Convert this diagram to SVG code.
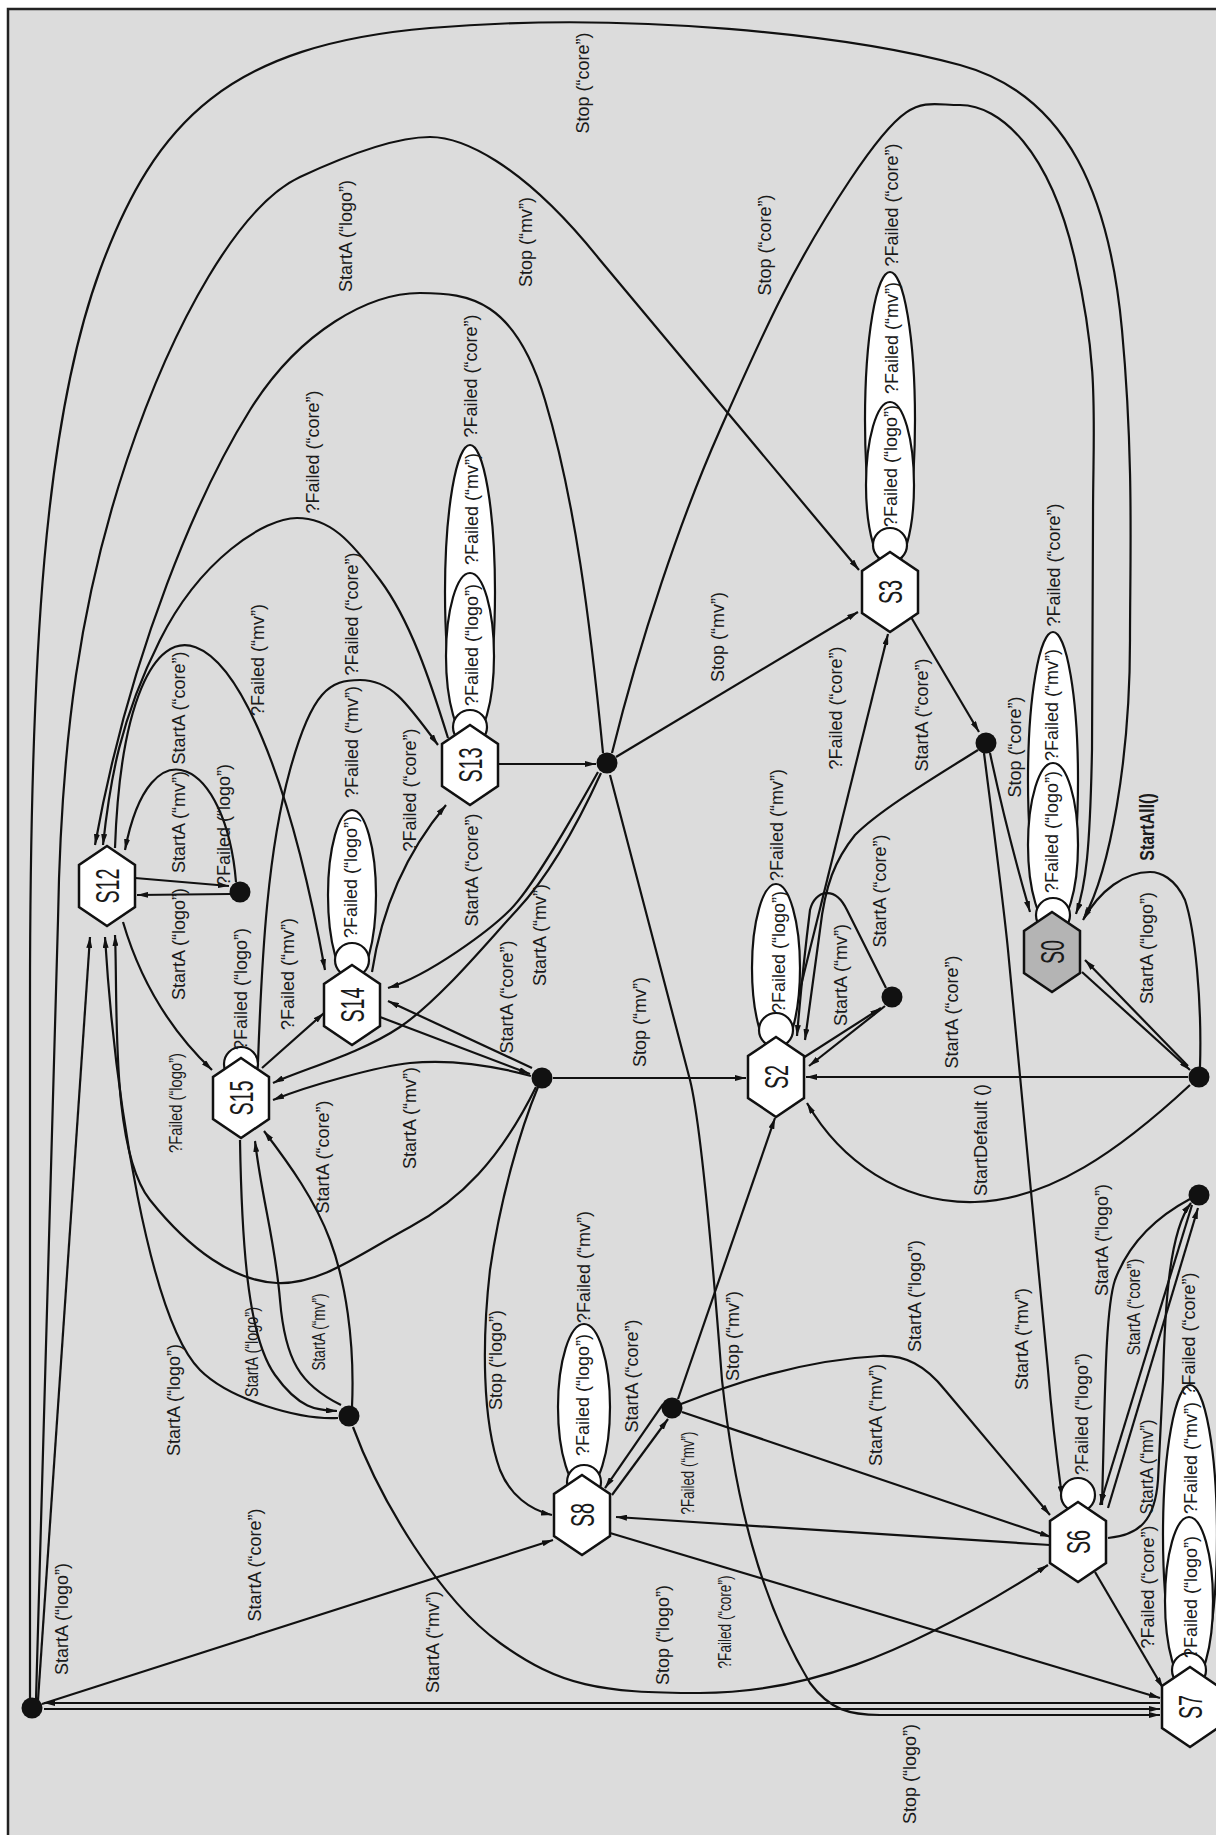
<svg xmlns="http://www.w3.org/2000/svg" xmlns:xlink="http://www.w3.org/1999/xlink" width="1216" height="1835" viewBox="0 0 1216 1835">
<style>
.e path{fill:none;stroke:#111;stroke-width:2.2;marker-end:url(#ar)}
.lp{fill:#fff;stroke:#111;stroke-width:2.2}
.nd{fill:#fff;stroke:#111;stroke-width:2.5}
.gr{fill:#b4b4b4;stroke:#111;stroke-width:2.5}
.j{fill:#111}
.t{font-family:"Liberation Sans",Arial,sans-serif;font-size:18px;fill:#1a1a1a;text-anchor:middle;dominant-baseline:central}
.n{font-size:33px}
.b{font-weight:bold;font-size:20px}
</style>
<defs>
<marker id="ar" viewBox="0 0 11 6" refX="11" refY="3" markerWidth="11" markerHeight="6" markerUnits="userSpaceOnUse" orient="auto"><path d="M0,0 L11,3 L0,6 z" fill="#111"/></marker>
<polygon id="hex" points="0,-40 28,-21 28,21 0,40 -28,21 -28,-21"/>
</defs>
<rect x="0" y="0" width="1216" height="1835" fill="#fff"/>
<rect x="8" y="9" width="1240" height="1860" fill="#dcdcdc" stroke="#222" stroke-width="2.5"/>

<g id="connectors" class="e">
<path d="M30,1700 L30,1000 C30,650 45,420 100,270 S230,45 430,28 S850,35 960,65 S1110,200 1122,330 S1130,560 1130,640 C1130,760 1110,870 1084,918"/>
<path d="M612,753 C640,640 680,520 720,430 S790,270 850,180 S920,105 960,105 S1050,150 1075,260 S1093,420 1093,520 L1092,750 C1090,850 1086,885 1076,914"/>
<path d="M36,1700 C45,1400 55,1100 58,920 S80,600 127,460 S240,205 300,177 S400,137 430,137 S520,160 600,260 L859,570"/>
<path d="M603,753 C590,620 575,500 545,400 S470,293 420,293 S300,330 250,410 S130,650 95,845"/>
<path d="M448,738 C430,680 410,620 380,580 S330,518 297,518 S200,560 160,640 S110,780 103,845"/>
<path d="M115,848 C125,560 250,560 325,970"/>
<path d="M236,882 C226,760 150,720 125,850"/>
<path d="M135,878 L229,886"/>
<path d="M230,894 L137,895"/>
<path d="M258,1062 C262,950 268,850 290,770 S330,680 360,680 S405,700 438,745"/>
<path d="M372,972 C380,920 400,860 446,805"/>
<path d="M498,764 L596,764"/>
<path d="M616,757 L858,612"/>
<path d="M598,772 C560,840 530,890 510,910 S430,975 388,988"/>
<path d="M601,773 C575,830 545,880 517,910 S440,1000 400,1027 S300,1070 273,1083"/>
<path d="M610,775 L690,1080 C700,1120 712,1250 722,1380 C735,1500 760,1600 810,1683 C830,1710 850,1715 880,1715 L1160,1715"/>
<path d="M380,1017 L530,1074"/>
<path d="M532,1068 L388,1001"/>
<path d="M553,1078 L746,1078"/>
<path d="M531,1076 C480,1062 440,1060 410,1063 S310,1085 273,1100"/>
<path d="M536,1087 C500,1160 460,1200 410,1227 S320,1285 277,1283 S190,1250 150,1200 S118,1000 115,935"/>
<path d="M123,922 C140,980 170,1030 212,1070"/>
<path d="M38,1700 L90,937"/>
<path d="M338,1418 C300,1420 230,1400 200,1370 C150,1320 115,1100 105,937"/>
<path d="M240,1140 C242,1260 250,1340 275,1375 S318,1410 337,1411"/>
<path d="M341,1405 C300,1385 285,1360 280,1300 S262,1200 255,1141"/>
<path d="M352,1407 C355,1340 345,1280 330,1240 S290,1165 264,1131"/>
<path d="M353,1427 C380,1500 440,1600 500,1643 S600,1693 700,1693 S900,1660 1048,1565"/>
<path d="M1160,1703 L44,1703"/>
<path d="M44,1709 L1160,1709"/>
<path d="M42,1704 L553,1540"/>
<path d="M538,1087 C520,1130 500,1200 490,1270 C482,1340 482,1420 500,1470 C510,1495 530,1510 552,1515"/>
<path d="M1050,1545 L616,1517"/>
<path d="M610,1533 L1160,1698"/>
<path d="M663,1404 L605,1488"/>
<path d="M612,1495 L668,1419"/>
<path d="M678,1399 L775,1118"/>
<path d="M682,1412 L1051,1537"/>
<path d="M681,1404 C730,1385 800,1360 880,1356 C905,1355 925,1365 945,1390 L1050,1515"/>
<path d="M984,753 C995,840 1003,900 1008,950 L1048,1370 C1052,1420 1057,1460 1062,1497"/>
<path d="M1190,1199 C1160,1215 1130,1240 1115,1280 C1105,1310 1105,1400 1102,1505"/>
<path d="M1108,1538 C1140,1535 1155,1520 1158,1480 L1163,1380 C1165,1300 1170,1230 1191,1203"/>
<path d="M1108,1508 L1198,1208"/>
<path d="M1192,1205 L1100,1505"/>
<path d="M1095,1572 L1163,1688"/>
<path d="M803,1058 L881,1008"/>
<path d="M885,1006 L809,1066"/>
<path d="M886,988 L847,910 C835,885 815,890 810,910 C805,950 800,1000 797,1036"/>
<path d="M788,1038 L888,634"/>
<path d="M978,750 C930,780 880,810 855,835 C835,860 825,885 820,930 L805,1040"/>
<path d="M908,612 L979,732"/>
<path d="M990,753 C1000,800 1015,860 1030,912"/>
<path d="M1188,1077 L806,1077"/>
<path d="M1190,1085 C1120,1150 1050,1200 975,1202 C900,1204 840,1160 807,1103"/>
<path d="M1082,972 L1190,1070"/>
<path d="M1188,1066 L1085,960"/>
<path d="M1200,1067 C1202,1000 1195,930 1185,900 C1175,878 1160,872 1150,872 C1125,872 1100,890 1083,920"/>
<path d="M262,1068 L324,1013"/>
</g>

<g id="loops">
<ellipse class="lp" cx="470" cy="592" rx="25" ry="147"/>
<ellipse class="lp" cx="470" cy="656" rx="24" ry="83"/>
<circle class="lp" cx="470" cy="727" r="17"/>
<ellipse class="lp" cx="890" cy="420" rx="25" ry="148"/>
<ellipse class="lp" cx="890" cy="485" rx="24" ry="83"/>
<circle class="lp" cx="890" cy="545" r="17"/>
<ellipse class="lp" cx="1053" cy="780" rx="25" ry="148"/>
<ellipse class="lp" cx="1053" cy="845" rx="25" ry="82"/>
<circle class="lp" cx="1053" cy="915" r="17"/>
<ellipse class="lp" cx="1190" cy="1535" rx="27" ry="150"/>
<ellipse class="lp" cx="1189" cy="1601" rx="24" ry="84"/>
<circle class="lp" cx="1189" cy="1670" r="17"/>
<ellipse class="lp" cx="776" cy="968" rx="24" ry="84"/>
<circle class="lp" cx="776" cy="1030" r="17"/>
<ellipse class="lp" cx="584" cy="1407" rx="26" ry="83"/>
<circle class="lp" cx="584" cy="1482" r="17"/>
<ellipse class="lp" cx="352" cy="895" rx="24" ry="85"/>
<circle class="lp" cx="352" cy="960" r="17"/>
<circle class="lp" cx="241" cy="1064" r="17"/>
<circle class="lp" cx="1078" cy="1495" r="17"/>
</g>

<g id="S12" transform="translate(107,886)"><use xlink:href="#hex" class="nd"/><text class="t n" transform="rotate(-90) scale(0.6,1)">S12</text></g>
<g id="S15" transform="translate(241,1098)"><use xlink:href="#hex" class="nd"/><text class="t n" transform="rotate(-90) scale(0.6,1)">S15</text></g>
<g id="S14" transform="translate(352,1005)"><use xlink:href="#hex" class="nd"/><text class="t n" transform="rotate(-90) scale(0.6,1)">S14</text></g>
<g id="S13" transform="translate(470,765)"><use xlink:href="#hex" class="nd"/><text class="t n" transform="rotate(-90) scale(0.6,1)">S13</text></g>
<g id="S3" transform="translate(890,592)"><use xlink:href="#hex" class="nd"/><text class="t n" transform="rotate(-90) scale(0.6,1)">S3</text></g>
<g id="S0" transform="translate(1052,952)"><use xlink:href="#hex" class="gr"/><text class="t n" transform="rotate(-90) scale(0.6,1)">S0</text></g>
<g id="S2" transform="translate(776,1077)"><use xlink:href="#hex" class="nd"/><text class="t n" transform="rotate(-90) scale(0.6,1)">S2</text></g>
<g id="S8" transform="translate(582,1515)"><use xlink:href="#hex" class="nd"/><text class="t n" transform="rotate(-90) scale(0.6,1)">S8</text></g>
<g id="S6" transform="translate(1078,1542)"><use xlink:href="#hex" class="nd"/><text class="t n" transform="rotate(-90) scale(0.6,1)">S6</text></g>
<g id="S7" transform="translate(1190,1707)"><use xlink:href="#hex" class="nd"/><text class="t n" transform="rotate(-90) scale(0.6,1)">S7</text></g>
<g id="J1"><circle class="j" cx="607" cy="763" r="10.5"/></g>
<g id="J2"><circle class="j" cx="986" cy="743" r="10.5"/></g>
<g id="J3"><circle class="j" cx="1199" cy="1077" r="10.5"/></g>
<g id="J4"><circle class="j" cx="892" cy="997" r="10.5"/></g>
<g id="J5"><circle class="j" cx="542" cy="1078" r="10.5"/></g>
<g id="J6"><circle class="j" cx="1199" cy="1195" r="10.5"/></g>
<g id="J7"><circle class="j" cx="349" cy="1416" r="10.5"/></g>
<g id="J8"><circle class="j" cx="672" cy="1408" r="10.5"/></g>
<g id="J9"><circle class="j" cx="32" cy="1708" r="10.5"/></g>
<g id="J10"><circle class="j" cx="240" cy="892" r="10.5"/></g>

<g id="labels" class="t">
<text transform="translate(583,83) rotate(-90)">Stop (“core”)</text>
<text transform="translate(346,236) rotate(-90)">StartA (“logo”)</text>
<text transform="translate(526,242) rotate(-90)">Stop (“mv”)</text>
<text transform="translate(765,245) rotate(-90)">Stop (“core”)</text>
<text transform="translate(892,205) rotate(-90)">?Failed (“core”)</text>
<text transform="translate(892,338) rotate(-90)">?Failed (“mv”)</text>
<text transform="translate(891,466) rotate(-90)">?Failed (“logo”)</text>
<text transform="translate(471,376) rotate(-90)">?Failed (“core”)</text>
<text transform="translate(472,509) rotate(-90)">?Failed (“mv”)</text>
<text transform="translate(472,645) rotate(-90)">?Failed (“logo”)</text>
<text transform="translate(313,452) rotate(-90)">?Failed (“core”)</text>
<text transform="translate(258,660) rotate(-90)">?Failed (“mv”)</text>
<text transform="translate(179,708) rotate(-90)">StartA (“core”)</text>
<text transform="translate(179,822) rotate(-90)">StartA (“mv”)</text>
<text transform="translate(224,825) rotate(-90)">?Failed (“logo”)</text>
<text transform="translate(352,614) rotate(-90)">?Failed (“core”)</text>
<text transform="translate(352,742) rotate(-90)">?Failed (“mv”)</text>
<text transform="translate(351,877) rotate(-90)">?Failed (“logo”)</text>
<text transform="translate(410,790) rotate(-90)">?Failed (“core”)</text>
<text transform="translate(472,870) rotate(-90)">StartA (“core”)</text>
<text transform="translate(540,935) rotate(-90)">StartA (“mv”)</text>
<text transform="translate(718,637) rotate(-90)">Stop (“mv”)</text>
<text transform="translate(836,708) rotate(-90)">?Failed (“core”)</text>
<text transform="translate(922,715) rotate(-90)">StartA (“core”)</text>
<text transform="translate(1015,747) rotate(-90)">Stop (“core”)</text>
<text transform="translate(1054,565) rotate(-90)">?Failed (“core”)</text>
<text transform="translate(1052,705) rotate(-90)">?Failed (“mv”)</text>
<text transform="translate(1052,832) rotate(-90)">?Failed (“logo”)</text>
<text class="b" transform="translate(1147,827) rotate(-90) scale(0.8,1)">StartAll()</text>
<text transform="translate(1147,948) rotate(-90)">StartA (“logo”)</text>
<text transform="translate(880,891) rotate(-90)">StartA (“core”)</text>
<text transform="translate(841,975) rotate(-90)">StartA (“mv”)</text>
<text transform="translate(952,1012) rotate(-90)">StartA (“core”)</text>
<text transform="translate(981,1140) rotate(-90)">StartDefault ()</text>
<text transform="translate(777,825) rotate(-90)">?Failed (“mv”)</text>
<text transform="translate(779,952) rotate(-90)">?Failed (“logo”)</text>
<text transform="translate(179,944) rotate(-90)">StartA (“logo”)</text>
<text transform="translate(176,1103) rotate(-90)" textLength="100" lengthAdjust="spacingAndGlyphs">?Failed (“logo”)</text>
<text transform="translate(241,989) rotate(-90)">?Failed (“logo”)</text>
<text transform="translate(288,974) rotate(-90)">?Failed (“mv”)</text>
<text transform="translate(507,997) rotate(-90)">StartA (“core”)</text>
<text transform="translate(410,1118) rotate(-90)">StartA (“mv”)</text>
<text transform="translate(640,1022) rotate(-90)">Stop (“mv”)</text>
<text transform="translate(323,1157) rotate(-90)">StartA (“core”)</text>
<text transform="translate(252,1352) rotate(-90)" textLength="90" lengthAdjust="spacingAndGlyphs">StartA (“logo”)</text>
<text transform="translate(319,1332) rotate(-90)" textLength="77" lengthAdjust="spacingAndGlyphs">StartA (“mv”)</text>
<text transform="translate(174,1400) rotate(-90)">StartA (“logo”)</text>
<text transform="translate(496,1360) rotate(-90)">Stop (“logo”)</text>
<text transform="translate(584,1267) rotate(-90)">?Failed (“mv”)</text>
<text transform="translate(583,1395) rotate(-90)">?Failed (“logo”)</text>
<text transform="translate(632,1376) rotate(-90)">StartA (“core”)</text>
<text transform="translate(733,1336) rotate(-90)">Stop (“mv”)</text>
<text transform="translate(915,1296) rotate(-90)">StartA (“logo”)</text>
<text transform="translate(1022,1339) rotate(-90)">StartA (“mv”)</text>
<text transform="translate(1102,1240) rotate(-90)">StartA (“logo”)</text>
<text transform="translate(1134,1307) rotate(-90)" textLength="97" lengthAdjust="spacingAndGlyphs">StartA (“core”)</text>
<text transform="translate(1189,1334) rotate(-90)">?Failed (“core”)</text>
<text transform="translate(1191,1458) rotate(-90)">?Failed (“mv”)</text>
<text transform="translate(1191,1597) rotate(-90)">?Failed (“logo”)</text>
<text transform="translate(876,1415) rotate(-90)">StartA (“mv”)</text>
<text transform="translate(1082,1414) rotate(-90)">?Failed (“logo”)</text>
<text transform="translate(1147,1467) rotate(-90)" textLength="95" lengthAdjust="spacingAndGlyphs">StartA (“mv”)</text>
<text transform="translate(1148,1587) rotate(-90)">?Failed (“core”)</text>
<text transform="translate(688,1473) rotate(-90)" textLength="83" lengthAdjust="spacingAndGlyphs">?Failed (“mv”)</text>
<text transform="translate(433,1642) rotate(-90)">StartA (“mv”)</text>
<text transform="translate(663,1635) rotate(-90)">Stop (“logo”)</text>
<text transform="translate(725,1622) rotate(-90)" textLength="93" lengthAdjust="spacingAndGlyphs">?Failed (“core”)</text>
<text transform="translate(62,1619) rotate(-90)">StartA (“logo”)</text>
<text transform="translate(255,1565) rotate(-90)">StartA (“core”)</text>
<text transform="translate(910,1774) rotate(-90)">Stop (“logo”)</text>
</g>
</svg>
